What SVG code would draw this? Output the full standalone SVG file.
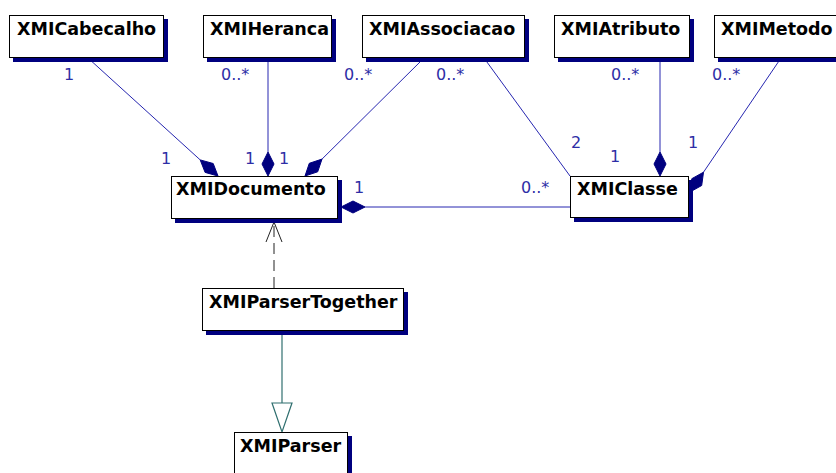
<svg xmlns="http://www.w3.org/2000/svg" width="836" height="473" viewBox="0 0 836 473">
<style>
.sh{fill:#00007f}
.bx{fill:#fff;stroke:#000;stroke-width:1}
.nt{font-family:"DejaVu Sans",sans-serif;font-weight:bold;font-size:17.5px;fill:#000}
.lb{font-family:"DejaVu Sans",sans-serif;font-size:16px;fill:#2e2ea6}
.as{stroke:#2626b0;stroke-width:1;fill:none}
.dm{fill:#00007f;stroke:#00007f;stroke-width:1}
.dep{stroke:#222;stroke-width:1;fill:none;stroke-dasharray:11,6}
.gen{stroke:#2f6f6f;stroke-width:1.2;fill:none}
</style>
<rect width="836" height="473" fill="#fff"/>
<g id="connectors">
  <line class="as" x1="88" y1="58" x2="200.2" y2="159.9"/>
  <polygon class="dm" points="218,176 205.1,172.4 200.2,159.9 213.2,163.5"/>
  <line class="as" x1="268" y1="58" x2="268" y2="152"/>
  <polygon class="dm" points="268,176 262,164 268,152 274,164"/>
  <line class="as" x1="424" y1="58" x2="322" y2="159.1"/>
  <polygon class="dm" points="305,176 317.7,171.8 322,159.1 309.3,163.3"/>
  <line class="as" x1="484" y1="58" x2="570" y2="176"/>
  <line class="as" x1="660" y1="58" x2="660" y2="152"/>
  <polygon class="dm" points="660,176 654,164 660,152 666,164"/>
  <line class="as" x1="781" y1="58" x2="703.5" y2="172.2"/>
  <polygon class="dm" points="690,192 691.8,178.7 703.5,172.2 701.7,185.5"/>
  <line class="as" x1="365" y1="207" x2="570" y2="207"/>
  <polygon class="dm" points="341,207 353,201 365,207 353,213"/>
  <line class="dep" x1="274" y1="288" x2="274" y2="223"/>
  <polyline class="dep" style="stroke-dasharray:none" points="266,242 274,222 282,242"/>
  <line class="gen" x1="282" y1="334" x2="282" y2="403"/>
  <polygon class="gen" points="272,403 292,403 282,432"/>
</g>
<g id="labels">
  <text class="lb" x="64" y="80">1</text>
  <text class="lb" x="161" y="164">1</text>
  <text class="lb" x="221" y="80">0..*</text>
  <text class="lb" x="245" y="164">1</text>
  <text class="lb" x="279" y="164">1</text>
  <text class="lb" x="344" y="80">0..*</text>
  <text class="lb" x="436" y="80">0..*</text>
  <text class="lb" x="571" y="148">2</text>
  <text class="lb" x="611" y="80">0..*</text>
  <text class="lb" x="610" y="162">1</text>
  <text class="lb" x="712" y="80">0..*</text>
  <text class="lb" x="688" y="148">1</text>
  <text class="lb" x="354" y="193">1</text>
  <text class="lb" x="521" y="193">0..*</text>
</g>
<g id="XMICabecalho">
  <rect class="sh" x="13" y="19" width="155" height="43"/>
  <rect class="bx" x="9.5" y="15.5" width="154" height="42"/>
  <text class="nt" x="17" y="35">XMICabecalho</text>
</g>
<g id="XMIHeranca">
  <rect class="sh" x="207" y="19" width="129" height="43"/>
  <rect class="bx" x="203.5" y="15.5" width="128" height="42"/>
  <text class="nt" x="210" y="35">XMIHeranca</text>
</g>
<g id="XMIAssociacao">
  <rect class="sh" x="366" y="19" width="163" height="43"/>
  <rect class="bx" x="362.5" y="15.5" width="162" height="42"/>
  <text class="nt" x="369" y="35">XMIAssociacao</text>
</g>
<g id="XMIAtributo">
  <rect class="sh" x="558" y="19" width="136" height="43"/>
  <rect class="bx" x="554.5" y="15.5" width="135" height="42"/>
  <text class="nt" x="561" y="35">XMIAtributo</text>
</g>
<g id="XMIMetodo">
  <rect class="sh" x="718" y="19" width="140" height="43"/>
  <rect class="bx" x="714.5" y="15.5" width="140" height="42"/>
  <text class="nt" x="721" y="35">XMIMetodo</text>
</g>
<g id="XMIDocumento">
  <rect class="sh" x="175" y="180" width="167" height="43"/>
  <rect class="bx" x="171.5" y="176.5" width="166" height="42"/>
  <text class="nt" x="176" y="195">XMIDocumento</text>
</g>
<g id="XMIClasse">
  <rect class="sh" x="574" y="180" width="119" height="42"/>
  <rect class="bx" x="570.5" y="176.5" width="118" height="41"/>
  <text class="nt" x="577" y="195">XMIClasse</text>
</g>
<g id="XMIParserTogether">
  <rect class="sh" x="206" y="292" width="202" height="43"/>
  <rect class="bx" x="202.5" y="288.5" width="201" height="42"/>
  <text class="nt" x="209" y="308">XMIParserTogether</text>
</g>
<g id="XMIParser">
  <rect class="sh" x="238" y="436" width="114" height="43"/>
  <rect class="bx" x="234.5" y="432.5" width="113" height="45"/>
  <text class="nt" x="240" y="452">XMIParser</text>
</g>
</svg>
